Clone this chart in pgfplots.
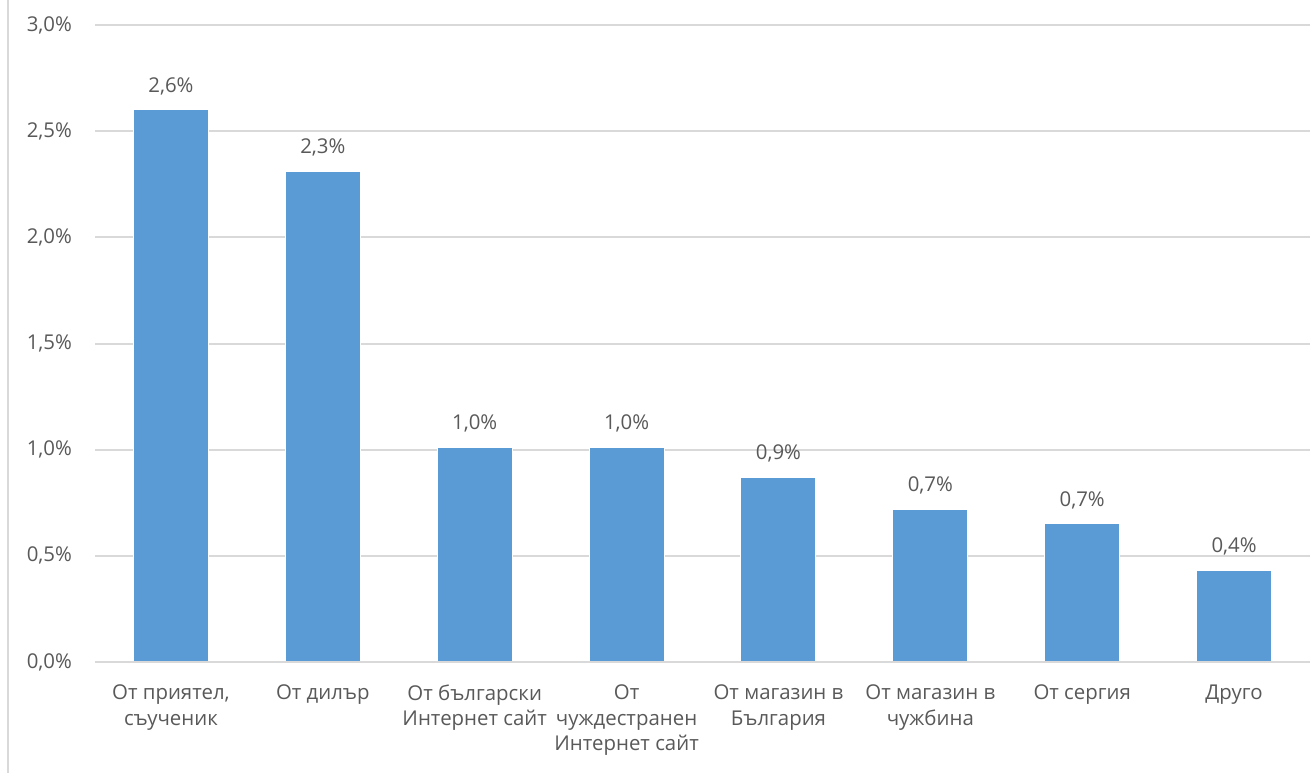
\documentclass[border=0pt]{standalone}
\usepackage{fontspec}
\setmainfont{Open Sans}
\usepackage{pgfplots}
\pgfplotsset{compat=1.18}
\definecolor{barblue}{HTML}{5B9BD5}
\definecolor{gridgray}{HTML}{D9D9D9}
\definecolor{txtgray}{HTML}{595959}
\begin{document}
\begin{tikzpicture}
\path[use as bounding box] (0,0) rectangle (657.5pt,386.5pt);
\draw[gridgray, line width=1pt] (4pt,0) -- (4pt,386.5pt);
\begin{axis}[
  at={(47.5pt,55.5pt)}, anchor=south west,
  scale only axis, width=607.5pt, height=318.5pt,
  xmin=-0.5, xmax=7.5, ymin=0, ymax=3,
  ybar, bar width=37.5pt,
  axis line style={draw=none},
  ytick={0,0.5,1,1.5,2,2.5,3},
  ymajorgrids, grid style={gridgray, line width=1pt},
  major tick length=0pt,
  /pgf/number format/assume math mode=true,
  yticklabel={\pgfmathprintnumber[fixed,fixed zerofill,precision=1,use comma]{\tick}\%},
  yticklabel style={font=\fontsize{10.2}{12}\selectfont, text=txtgray, xshift=-8pt},
  xtick={0,...,7},
  xticklabels={{От приятел,\\съученик},{От дилър},{От български\\Интернет сайт},{От\\чуждестранен\\Интернет сайт},{От магазин в\\България},{От магазин в\\чужбина},{От сергия},{Друго}},
  xticklabel style={font=\fontsize{10.2}{12.6}\selectfont, text=txtgray, align=center, anchor=north, yshift=-8pt},
  nodes near coords={\pgfmathprintnumber[fixed,fixed zerofill,precision=1,use comma]{\pgfplotspointmeta}\%},
  nodes near coords style={font=\fontsize{10.2}{12}\selectfont, text=txtgray, yshift=4pt},
  clip=false,
]
\addplot[fill=barblue, draw=white, line width=0.5pt] coordinates {
 (0,2.60) (1,2.31) (2,1.01) (3,1.01) (4,0.87) (5,0.72) (6,0.65) (7,0.43)};
\draw[gridgray, line width=1pt] (axis cs:-0.5,0) -- (axis cs:7.5,0);
\end{axis}
\end{tikzpicture}
\end{document}
